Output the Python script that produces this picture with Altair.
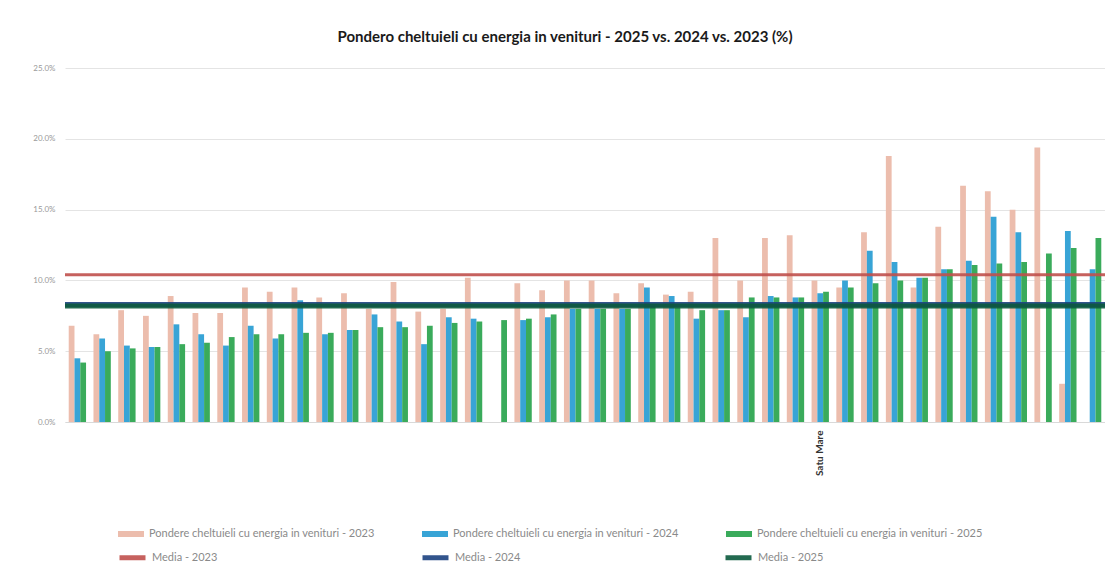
import altair as alt
import pandas as pd

# ---- data ----
categories = [
    "Alba", "Arad", "Argeș", "Bacău", "Bihor", "Bistrița-Năsăud", "Botoșani",
    "Brașov", "Brăila", "București", "Buzău", "Caraș-Severin", "Călărași",
    "Cluj", "Constanța", "Covasna", "Dâmbovița", "Dolj", "Galați", "Giurgiu",
    "Gorj", "Harghita", "Hunedoara", "Ialomița", "Iași", "Ilfov", "Maramureș",
    "Mehedinți", "Mureș", "Neamț", "Satu Mare", "Olt", "Prahova", "Sălaj",
    "Sibiu", "Suceava", "Teleorman", "Timiș", "Tulcea", "Vaslui", "Vâlcea",
    "Vrancea",
]
v2023 = [6.8, 6.2, 7.9, 7.5, 8.9, 7.7, 7.7, 9.5, 9.2, 9.5, 8.8, 9.1, 8.0, 9.9,
         7.8, 8.0, 10.2, None, 9.8, 9.3, 10.0, 10.0, 9.1, 9.8, 9.0, 9.2, 13.0,
         10.0, 13.0, 13.2, 10.0, 9.5, 13.4, 18.8, 9.5, 13.8, 16.7, 16.3, 15.0,
         19.4, 2.7, None]
v2024 = [4.5, 5.9, 5.4, 5.3, 6.9, 6.2, 5.4, 6.8, 5.9, 8.6, 6.2, 6.5, 7.6, 7.1,
         5.5, 7.4, 7.3, None, 7.2, 7.4, 8.0, 8.0, 8.0, 9.5, 8.9, 7.3, 7.9, 7.4,
         8.9, 8.8, 9.1, 10.0, 12.1, 11.3, 10.2, 10.8, 11.4, 14.5, 13.4, None,
         13.5, 10.8]
v2025 = [4.2, 5.0, 5.2, 5.3, 5.5, 5.6, 6.0, 6.2, 6.2, 6.3, 6.3, 6.5, 6.7, 6.7,
         6.8, 7.0, 7.1, 7.2, 7.3, 7.6, 8.0, 8.0, 8.0, 8.2, 8.1, 7.9, 7.9, 8.8,
         8.8, 8.8, 9.2, 9.5, 9.8, 10.0, 10.2, 10.8, 11.1, 11.2, 11.3, 11.9,
         12.3, 13.0]

series_names = [
    "Pondere cheltuieli cu energia in venituri - 2023",
    "Pondere cheltuieli cu energia in venituri - 2024",
    "Pondere cheltuieli cu energia in venituri - 2025",
]
series_colors = ["#ecbdad", "#38a4d6", "#3aab5b"]

mean_names = ["Media - 2023", "Media - 2024", "Media - 2025"]
mean_values = [10.4, 8.3, 8.2]
mean_colors = ["#c0504d", "#1c4280", "#0c5a3e"]

title_text = "Pondero cheltuieli cu energia in venituri - 2025 vs. 2024 vs. 2023 (%)"

# ---- tables ----
rows = []
for name, vals in zip(series_names, [v2023, v2024, v2025]):
    for cat, v in zip(categories, vals):
        if v is not None:
            rows.append({"cat": cat, "series": name, "val": v / 100})
bars_df = pd.DataFrame(rows)
means_df = pd.DataFrame({"series": mean_names, "val": [m / 100 for m in mean_values]})

bars = alt.Chart(bars_df).mark_bar().encode(
    x=alt.X("cat:N", sort=categories, title=None,
            scale=alt.Scale(paddingInner=0.3, paddingOuter=0.15),
            axis=alt.Axis(labelExpr="datum.value == 'Satu Mare' ? datum.value : ''",
                          labelAngle=270, ticks=False, domain=True,
                          domainColor="#d9d9d9", labelFontSize=10,
                          labelFontWeight="bold", labelColor="#333333",
                          labelPadding=8, labelFont="Lato")),
    xOffset=alt.XOffset("series:N", sort=series_names),
    y=alt.Y("val:Q", title=None,
            scale=alt.Scale(domain=[0, 0.25]),
            axis=alt.Axis(format=".1%", values=[0, 0.05, 0.10, 0.15, 0.20, 0.25],
                          ticks=False, domain=False, labelColor="#9a9a9a",
                          labelFontSize=8, labelPadding=10,
                          gridColor="#e4e4e4", labelFont="Lato")),
    color=alt.Color("series:N", sort=series_names,
                    scale=alt.Scale(domain=series_names, range=series_colors),
                    legend=alt.Legend(title=None, orient="none", legendX=52, legendY=466,
                                      direction="horizontal", columns=3,
                                      gridAlign="all", columnPadding=46,
                                      symbolType="M-1,-0.23H1V0.23H-1Z",
                                      symbolSize=676, labelFontSize=11,
                                      labelColor="#8a8a8a", labelFont="Lato",
                                      labelLimit=400)),
)

rules = alt.Chart(means_df).mark_rule(opacity=0.9).encode(
    y=alt.Y("val:Q"),
    color=alt.Color("series:N", sort=mean_names,
                    scale=alt.Scale(domain=mean_names, range=mean_colors),
                    legend=alt.Legend(title=None, orient="none", legendX=52, legendY=488,
                                      direction="horizontal", columns=3,
                                      gridAlign="all", columnPadding=194,
                                      symbolType="stroke", symbolStrokeWidth=5,
                                      symbolSize=676, labelFontSize=11,
                                      labelColor="#8a8a8a", labelFont="Lato")),
    strokeWidth=alt.condition("datum.series == 'Media - 2023'", alt.value(3), alt.value(5)),
)

chart = alt.layer(bars, rules).resolve_scale(color="independent").resolve_legend(
    color="independent"
).properties(
    width=1040,
    height=368,
    title=alt.Title(title_text, fontSize=15, font="Lato", fontWeight="bold",
                    anchor="middle", offset=9, dx=-20, color="#1a1a1a"),
    autosize=alt.AutoSizeParams(type="none"),
    padding={"left": 57, "top": 46, "right": 0, "bottom": 150},
).configure_view(stroke=None)

chart.save("out.html", embed_options={"renderer": "svg", "actions": False})
